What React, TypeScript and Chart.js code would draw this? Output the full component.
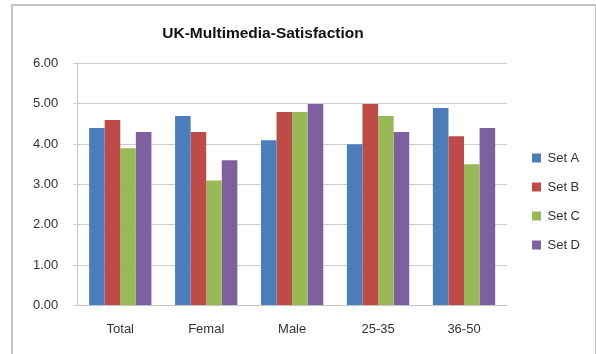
import React, { useEffect, useRef } from "react";
import { Chart, registerables } from "chart.js";

Chart.register(...registerables);

const categories = ["Total", "Femal", "Male", "25-35", "36-50"];
const seriesNames = ["Set A", "Set B", "Set C", "Set D"];
const setA = [4.4, 4.7, 4.1, 4.0, 4.9];
const setB = [4.6, 4.3, 4.8, 5.0, 4.2];
const setC = [3.9, 3.1, 4.8, 4.7, 3.5];
const setD = [4.3, 3.6, 5.0, 4.3, 4.4];
const seriesColors = ["#4a7ebb", "#be4b48", "#98b954", "#7d60a0"];
const yMin = 0;
const yMax = 6;
const yStep = 1;
const chartTitle = "UK-Multimedia-Satisfaction";

const FONT = "'Liberation Sans', Arial, sans-serif";

const placeBoxes = {
  id: "placeBoxes",
  afterLayout(chart: any) {
    const lg = chart.legend;
    if (lg) {
      const dx = 9;
      const dy = 17;
      lg.left += dx;
      lg.right += dx;
      lg.top += dy;
      lg.bottom += dy;
    }
    const t = chart.titleBlock;
    if (t) {
      const shift = (t.left + t.right) / 2 - 263;
      t.left -= shift;
      t.right -= shift;
    }
  },
};

export default function App() {
  const ref = useRef<HTMLCanvasElement | null>(null);
  useEffect(() => {
    if (!ref.current) return;
    const data = [setA, setB, setC, setD];
    const chart = new Chart(ref.current, {
      type: "bar",
      data: {
        labels: categories,
        datasets: seriesNames.map((name, i) => ({
          label: name,
          data: data[i],
          backgroundColor: seriesColors[i],
          borderWidth: 0,
          categoryPercentage: 0.725,
          barPercentage: 1.0,
        })),
      },
      options: {
        animation: false,
        responsive: false,
        maintainAspectRatio: false,
        devicePixelRatio: 1,
        layout: { padding: { left: 18, right: 15, top: 0, bottom: 1 } },
        plugins: {
          title: {
            display: true,
            text: chartTitle,
            color: "#111",
            font: { family: FONT, size: 15.5, weight: "bold" },
            padding: { top: 24, bottom: 21 },
          },
          legend: {
            display: true,
            position: "right",
            align: "center",
            fullSize: false,
            labels: {
              boxWidth: 9,
              boxHeight: 9,
              padding: 16,
              color: "#333",
              font: { family: FONT, size: 13 },
            },
          },
          tooltip: { enabled: false },
        },
        scales: {
          x: {
            grid: { display: false, drawTicks: false },
            border: { display: true, color: "#c4c4c4", width: 1 },
            ticks: { color: "#333", font: { family: FONT, size: 13 }, padding: 16 },
          },
          y: {
            min: yMin,
            max: yMax,
            grid: { color: "#cccccc", lineWidth: 1, tickLength: 4, drawTicks: true },
            border: { display: true, color: "#c4c4c4", width: 1 },
            ticks: {
              stepSize: yStep,
              color: "#333",
              font: { family: FONT, size: 13 },
              padding: 15,
              callback: (v: any) => Number(v).toFixed(2),
            },
          },
        },
      },
      plugins: [placeBoxes],
    });
    return () => chart.destroy();
  }, []);

  return (
    <div style={{ position: "absolute", left: 0, top: 0, width: 596, height: 354, overflow: "hidden", background: "#fff" }}>
      <div
        style={{
          position: "absolute",
          left: 11,
          top: 4,
          width: 582,
          height: 420,
          border: "2px solid #c4c4c4",
        }}
      />
      <canvas ref={ref} width={596} height={354} style={{ position: "absolute", left: 0, top: 0, width: 596, height: 354 }} />
    </div>
  );
}
